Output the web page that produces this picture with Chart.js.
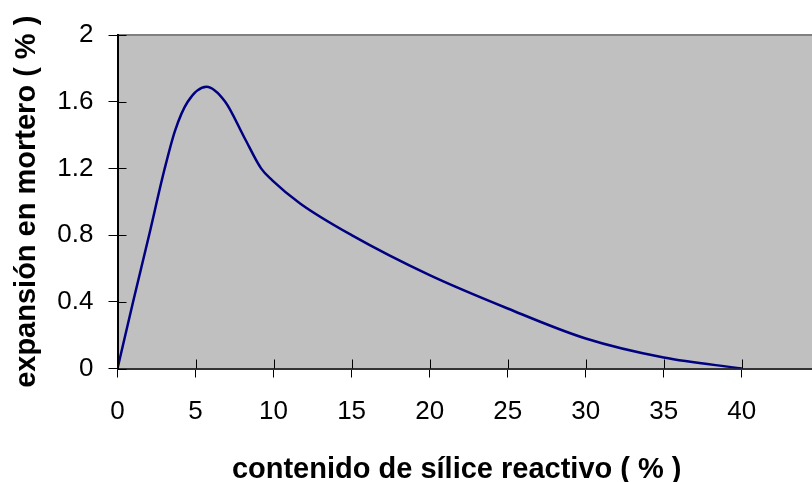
<!DOCTYPE html>
<html>
<head>
<meta charset="utf-8">
<script src="https://cdn.jsdelivr.net/npm/chart.js@4.4.1/dist/chart.umd.min.js"></script>
<style>
  html, body { margin: 0; padding: 0; background: #ffffff; }
  #wrap { width: 812px; height: 482px; }
</style>
</head>
<body>
<div id="wrap"><canvas id="chart"></canvas></div>
<script>
// Values
const silica = [0, 1, 2, 3, 3.7, 4.5, 5.7, 6.9, 8.1, 9.2, 9.9, 11.7, 15, 20, 25, 30, 35, 40];
const expansion = [0, 0.4, 0.79, 1.19, 1.43, 1.6, 1.69, 1.6, 1.39, 1.2, 1.13, 0.99, 0.8, 0.56, 0.36, 0.18, 0.066, 0];
const xTicks = [0, 5, 10, 15, 20, 25, 30, 35, 40];
const yTicks = [0, 0.4, 0.8, 1.2, 1.6, 2];
const xTitle = 'contenido de sílice reactivo ( % )';
const yTitle = 'expansión en mortero ( % )';

const FONT = 'Arial, "Liberation Sans", sans-serif';

// grey plot background + top border
const plotArea = {
    id: 'plotArea',
    beforeDraw(chart) {
        const { ctx, chartArea: a } = chart;
        ctx.save();
        ctx.fillStyle = '#c0c0c0';
        ctx.fillRect(a.left, a.top, a.right - a.left, a.bottom - a.top);
        ctx.strokeStyle = '#808080';
        ctx.lineWidth = 2;
        ctx.beginPath();
        ctx.moveTo(a.left, a.top);
        ctx.lineTo(a.right, a.top);
        ctx.stroke();
        ctx.restore();
    },
    // tick marks cross the axis: draw the inner half
    afterDraw(chart) {
        const { ctx, chartArea: a, scales } = chart;
        ctx.save();
        ctx.strokeStyle = '#000';
        ctx.lineWidth = 1;
        ctx.beginPath();
        scales.x.ticks.forEach(t => {
            const px = Math.round(scales.x.getPixelForValue(t.value)) + 0.5;
            ctx.moveTo(px, a.bottom);
            ctx.lineTo(px, a.bottom - 9);
        });
        scales.y.ticks.forEach(t => {
            const py = Math.round(scales.y.getPixelForValue(t.value)) + 0.5;
            ctx.moveTo(a.left, py);
            ctx.lineTo(a.left + 9, py);
        });
        ctx.stroke();
        ctx.restore();
    }
};

const data = silica.map((x, i) => ({ x: x, y: expansion[i] }));

new Chart(document.getElementById('chart'), {
    type: 'scatter',
    data: {
        datasets: [{
            data: data,
            showLine: true,
            borderColor: '#000080',
            borderWidth: 2.5,
            pointRadius: 0,
            cubicInterpolationMode: 'monotone',
            fill: false
        }]
    },
    options: {
        responsive: true,
        maintainAspectRatio: false,
        animation: false,
        layout: { padding: { top: 35, right: 0, left: 0, bottom: 0 } },
        plugins: {
            legend: { display: false },
            tooltip: { enabled: false }
        },
        scales: {
            x: {
                type: 'linear',
                min: 0,
                max: 44.5,
                afterBuildTicks: (scale) => { scale.ticks = xTicks.map(v => ({ value: v })); },
                afterFit: (scale) => { scale.height = 113.5; },
                border: { display: true, color: '#333', width: 2 },
                grid: { drawOnChartArea: false, tickLength: 9, color: '#000', tickWidth: 1 },
                ticks: {
                    color: '#000',
                    font: { family: FONT, size: 26 },
                    padding: 19,
                    maxRotation: 0
                },
                title: {
                    display: true,
                    // trailing spaces nudge the centred title a little to the left
                    text: xTitle + '\u00a0\u00a0',
                    color: '#000',
                    font: { family: FONT, size: 29, weight: 'bold', lineHeight: 1 },
                    padding: { top: 0, bottom: -2 }
                }
            },
            y: {
                min: 0,
                max: 2,
                afterBuildTicks: (scale) => { scale.ticks = yTicks.map(v => ({ value: v })); },
                afterFit: (scale) => { scale.width = 117.5; },
                border: { display: true, color: '#000', width: 2 },
                grid: { drawOnChartArea: false, tickLength: 9, color: '#000', tickWidth: 1 },
                ticks: {
                    color: '#000',
                    font: { family: FONT, size: 26 },
                    padding: 15,
                    callback: (v) => String(v)
                },
                title: {
                    display: true,
                    text: yTitle,
                    color: '#000',
                    font: { family: FONT, size: 29, weight: 'bold', lineHeight: 1 },
                    padding: { top: 12, bottom: 0 }
                }
            }
        }
    },
    plugins: [plotArea]
});
</script>
</body>
</html>
